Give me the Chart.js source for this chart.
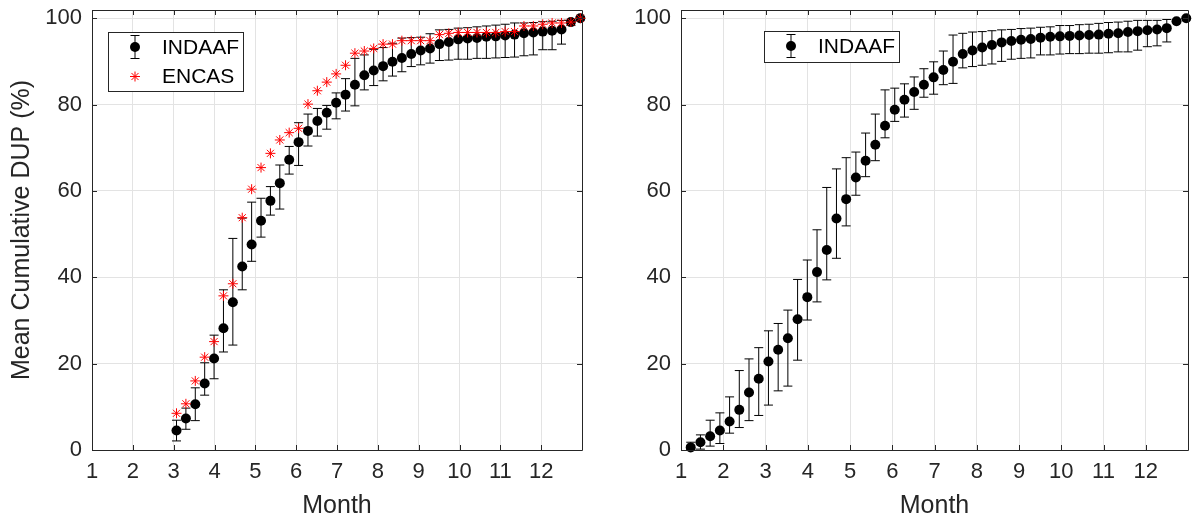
<!DOCTYPE html>
<html>
<head>
<meta charset="utf-8">
<script src="https://cdn.jsdelivr.net/npm/chart.js@4.4.1/dist/chart.umd.min.js"></script>
<style>
    html, body { margin: 0; padding: 0; background: #fff; }
    #wrap { position: relative; width: 1193px; height: 519px; overflow: hidden; }
    canvas { position: absolute; top: 0; }
    #chart_left { left: 0; }
    #chart_right { left: 596px; }
</style>
</head>
<body>
<div id="wrap">
    <canvas id="chart_left" width="596" height="519"></canvas>
    <canvas id="chart_right" width="597" height="519"></canvas>
</div>
<script>
const monthTicks = [1, 2, 3, 4, 5, 6, 7, 8, 9, 10, 11, 12];
const yTicks = [0, 20, 40, 60, 80, 100];

// left panel, weeks 9 to 52
const weeksLeft = [9, 10, 11, 12, 13, 14, 15, 16, 17, 18, 19, 20, 21, 22, 23, 24, 25, 26, 27, 28, 29, 30,
    31, 32, 33, 34, 35, 36, 37, 38, 39, 40, 41, 42, 43, 44, 45, 46, 47, 48, 49, 50, 51, 52];
const indaafLeft = [4.5, 7.3, 10.6, 15.4, 21.2, 28.2, 34.2, 42.5, 47.6, 53.1, 57.7, 61.8, 67.2, 71.3, 73.9, 76.2, 78.1, 80.4,
    82.3, 84.6, 86.8, 87.9, 88.9, 89.9, 90.8, 91.7, 92.5, 93.0, 94.0, 94.5, 95.1, 95.3, 95.4, 95.7, 95.8, 96.0,
    96.2, 96.5, 96.7, 96.9, 97.1, 97.4, 99.1, 100];
const indaafLeftHigh = [6.9, 9.7, 14.4, 20.2, 26.6, 37.1, 49.0, 53.7, 57.4, 58.3, 61.0, 66.0, 70.3, 75.8, 77.8, 79.1, 79.8, 82.7,
    86.0, 90.7, 91.5, 92.8, 93.2, 94.2, 95.4, 95.5, 95.6, 96.4, 97.3, 97.4, 97.7, 97.8, 98.0, 98.2, 98.4, 98.6,
    98.9, 98.9, 99.0, 99.2, 99.3, 99.5, 99.5, 100];
const indaafLeftLow = [2.1, 4.8, 6.8, 12.7, 16.5, 22.7, 24.3, 37.1, 43.7, 49.3, 54.4, 55.8, 63.9, 65.9, 70.4, 72.7, 74.3, 76.7,
    78.5, 79.7, 83.4, 84.4, 85.5, 86.6, 87.6, 88.8, 89.2, 89.6, 90.2, 90.3, 90.5, 90.5, 90.7, 90.7, 90.8, 90.9,
    91.0, 91.3, 91.5, 92.7, 92.7, 94.0, 98.3, 100];
const encasLeft = [8.5, 10.7, 16.0, 21.5, 25.1, 35.7, 38.5, 53.8, 60.4, 65.4, 68.7, 71.8, 73.5, 74.5, 80.1, 83.2, 85.2, 87.1,
    89.1, 91.9, 92.4, 93.0, 94.0, 94.0, 94.8, 94.8, 94.8, 94.8, 96.2, 96.5, 96.7, 96.7, 96.7, 96.7, 96.7, 96.9,
    96.9, 98.2, 98.2, 98.6, 98.9, 98.9, 99.1, 100];

// right panel, weeks 1 to 52
const weeksRight = [1, 2, 3, 4, 5, 6, 7, 8, 9, 10, 11, 12, 13, 14, 15, 16, 17, 18, 19, 20, 21, 22, 23, 24, 25, 26,
    27, 28, 29, 30, 31, 32, 33, 34, 35, 36, 37, 38, 39, 40, 41, 42, 43, 44, 45, 46, 47, 48, 49, 50, 51, 52];
const indaafRight = [0.6, 1.8, 3.2, 4.5, 6.6, 9.3, 13.3, 16.5, 20.5, 23.2, 25.9, 30.3, 35.4, 41.2, 46.3, 53.6, 58.1, 63.1,
    67.0, 70.7, 75.1, 78.8, 81.1, 82.9, 84.6, 86.3, 88.0, 89.9, 91.7, 92.5, 93.2, 93.8, 94.4, 94.7, 95.0, 95.2,
    95.5, 95.7, 95.8, 95.9, 96.0, 96.1, 96.2, 96.4, 96.5, 96.8, 97.0, 97.2, 97.4, 97.7, 99.3, 100];
const indaafRightHigh = [1.8, 3.5, 6.9, 8.6, 12.3, 18.4, 21.1, 23.7, 27.6, 29.3, 32.4, 39.5, 44.0, 51.0, 60.8, 65.1, 67.7, 69.0,
    73.4, 77.8, 83.4, 83.8, 84.8, 86.4, 88.3, 89.9, 92.4, 96.1, 96.5, 96.8, 96.9, 97.1, 97.3, 97.4, 97.6, 97.7,
    97.9, 98.0, 98.3, 98.3, 98.5, 98.6, 98.8, 99.0, 99.1, 99.3, 99.5, 99.5, 99.5, 99.7, 99.3, 100];
const indaafRightLow = [0, 0.2, 0.9, 1.5, 3.9, 5.2, 6.8, 8.0, 10.4, 13.7, 14.8, 20.8, 30.1, 34.3, 39.4, 44.4, 51.9, 59.0,
    63.3, 67.0, 72.3, 76.1, 77.1, 78.9, 81.7, 82.4, 84.6, 84.9, 88.5, 88.8, 89.1, 89.4, 90.0, 90.5, 90.7, 90.8,
    91.5, 91.5, 91.7, 91.8, 91.8, 91.9, 91.9, 92.0, 92.2, 92.2, 92.6, 93.4, 93.6, 94.5, 99.3, 100];

// week number -> month position on the axis
const toMonth = (w) => 1 + w * 7 / 30.44;
const points = (weeks, vals) => weeks.map((w, i) => ({x: toMonth(w), y: vals[i]}));

const FONT = '"Liberation Sans", Arial, sans-serif';
const AXIS_COLOR = '#262626';

// error bars, drawn under the markers
const errorBars = {
    id: 'errorBars',
    beforeDatasetsDraw(chart) {
        const ctx = chart.ctx;
        const xs = chart.scales.x, ys = chart.scales.y;
        ctx.save();
        ctx.strokeStyle = '#000';
        ctx.lineWidth = 1;
        chart.data.datasets.forEach(ds => {
            if (!ds.errLow) return;
            ds.data.forEach((p, i) => {
                const px = xs.getPixelForValue(p.x);
                const yl = ys.getPixelForValue(ds.errLow[i]);
                const yh = ys.getPixelForValue(ds.errHigh[i]);
                if (Math.abs(yl - yh) < 1) return;
                ctx.beginPath();
                ctx.moveTo(px, yl); ctx.lineTo(px, yh);
                ctx.moveTo(px - 4.5, yl); ctx.lineTo(px + 4.5, yl);
                ctx.moveTo(px - 4.5, yh); ctx.lineTo(px + 4.5, yh);
                ctx.stroke();
            });
        });
        ctx.restore();
    }
};

// box around the axes with inward ticks
const axesBox = {
    id: 'axesBox',
    afterDatasetsDraw(chart) {
        const ctx = chart.ctx;
        const a = chart.chartArea;
        const xs = chart.scales.x, ys = chart.scales.y;
        ctx.save();
        ctx.strokeStyle = AXIS_COLOR;
        ctx.lineWidth = 1;
        ctx.beginPath();
        ctx.rect(Math.round(a.left) + 0.5, Math.round(a.top) + 0.5, Math.round(a.right - a.left), Math.round(a.bottom - a.top));
        monthTicks.forEach(v => {
            const px = Math.round(xs.getPixelForValue(v)) + 0.5;
            ctx.moveTo(px, a.bottom); ctx.lineTo(px, a.bottom - 5);
            ctx.moveTo(px, a.top); ctx.lineTo(px, a.top + 5);
        });
        yTicks.forEach(v => {
            const py = Math.round(ys.getPixelForValue(v)) + 0.5;
            ctx.moveTo(a.left, py); ctx.lineTo(a.left + 5, py);
            ctx.moveTo(a.right, py); ctx.lineTo(a.right - 5, py);
        });
        ctx.stroke();
        ctx.restore();
    }
};

function drawStar(ctx, x, y, r) {
    ctx.beginPath();
    for (let k = 0; k < 4; k++) {
        const ang = k * Math.PI / 4;
        ctx.moveTo(x - r * Math.sin(ang), y - r * Math.cos(ang));
        ctx.lineTo(x + r * Math.sin(ang), y + r * Math.cos(ang));
    }
    ctx.stroke();
}

// matlab style legend inside the axes
const boxLegend = {
    id: 'boxLegend',
    afterDraw(chart, args, opts) {
        if (!opts.box) return;
        const ctx = chart.ctx;
        const [bx, by, bw, bh] = opts.box;
        ctx.save();
        ctx.fillStyle = '#fff';
        ctx.fillRect(bx, by, bw, bh);
        ctx.strokeStyle = AXIS_COLOR;
        ctx.lineWidth = 1;
        ctx.strokeRect(bx + 0.5, by + 0.5, bw, bh);
        opts.items.forEach((item, i) => {
            const cy = by + opts.firstRow + i * opts.rowStep;
            const mx = bx + opts.markerX;
            if (item.type === 'errbar') {
                ctx.strokeStyle = '#000';
                ctx.beginPath();
                ctx.moveTo(mx, cy - 11.5); ctx.lineTo(mx, cy + 11.5);
                ctx.moveTo(mx - 4.5, cy - 11.5); ctx.lineTo(mx + 4.5, cy - 11.5);
                ctx.moveTo(mx - 4.5, cy + 11.5); ctx.lineTo(mx + 4.5, cy + 11.5);
                ctx.stroke();
                ctx.fillStyle = '#000';
                ctx.beginPath();
                ctx.arc(mx, cy, 5, 0, Math.PI * 2);
                ctx.fill();
            } else {
                ctx.strokeStyle = '#ff0000';
                drawStar(ctx, mx, cy, 5);
            }
            ctx.fillStyle = '#000';
            ctx.font = '21px ' + FONT;
            ctx.textBaseline = 'middle';
            ctx.textAlign = 'left';
            ctx.fillText(item.label, bx + opts.textX, cy + 1);
        });
        ctx.restore();
    }
};

function makeOptions(yWidth, padRight, showTitle, legendOpts) {
    return {
        responsive: false,
        animation: false,
        devicePixelRatio: 1,
        layout: { padding: { left: 0, right: padRight, top: 10, bottom: 0 } },
        plugins: {
            legend: { display: false },
            tooltip: { enabled: false },
            boxLegend: legendOpts
        },
        scales: {
            x: {
                type: 'linear',
                min: 1,
                max: 13,
                afterBuildTicks: (scale) => { scale.ticks = monthTicks.map(v => ({value: v})); },
                afterFit: (scale) => {
                    scale.height = 69;
                    scale.paddingLeft = 0;
                    scale.paddingRight = 0;
                },
                ticks: {
                    autoSkip: false, maxRotation: 0, padding: 9,
                    color: AXIS_COLOR, font: { family: FONT, size: 22 }
                },
                grid: { color: '#e3e3e3', drawTicks: false },
                border: { display: false },
                title: {
                    display: true, text: 'Month', color: AXIS_COLOR,
                    font: { family: FONT, size: 25, lineHeight: 1 },
                    padding: { top: 0, bottom: 0 }
                }
            },
            y: {
                type: 'linear',
                min: 0,
                max: 101.9,
                afterBuildTicks: (scale) => { scale.ticks = yTicks.map(v => ({value: v})); },
                afterFit: (scale) => {
                    scale.width = yWidth;
                    scale.paddingTop = 0;
                    scale.paddingBottom = 0;
                },
                ticks: { padding: 10, color: AXIS_COLOR, font: { family: FONT, size: 22 } },
                grid: { color: '#e3e3e3', drawTicks: false },
                border: { display: false },
                title: {
                    display: showTitle, text: 'Mean Cumulative DUP (%)', color: AXIS_COLOR,
                    font: { family: FONT, size: 25, lineHeight: 1 },
                    padding: { top: 10, bottom: 0 }
                }
            }
        }
    };
}

new Chart(document.getElementById('chart_left').getContext('2d'), {
    type: 'scatter',
    data: {
        datasets: [
            {
                label: 'ENCAS',
                data: points(weeksLeft, encasLeft),
                pointStyle: 'star',
                pointRadius: 5,
                borderColor: '#ff0000',
                backgroundColor: '#ff0000',
                borderWidth: 1,
                clip: false
            },
            {
                label: 'INDAAF',
                data: points(weeksLeft, indaafLeft),
                errLow: indaafLeftLow,
                errHigh: indaafLeftHigh,
                pointRadius: 5,
                borderWidth: 0,
                backgroundColor: '#000',
                borderColor: '#000',
                clip: false
            }
        ]
    },
    options: makeOptions(92, 14, true, {
        box: [108, 32, 135, 59],
        firstRow: 15, rowStep: 29.5, markerX: 27, textX: 54,
        items: [{label: 'INDAAF', type: 'errbar'}, {label: 'ENCAS', type: 'star'}]
    }),
    plugins: [errorBars, axesBox, boxLegend]
});

new Chart(document.getElementById('chart_right').getContext('2d'), {
    type: 'scatter',
    data: {
        datasets: [
            {
                label: 'INDAAF',
                data: points(weeksRight, indaafRight),
                errLow: indaafRightLow,
                errHigh: indaafRightHigh,
                pointRadius: 5,
                borderWidth: 0,
                backgroundColor: '#000',
                borderColor: '#000',
                clip: false
            }
        ]
    },
    options: makeOptions(85, 2, false, {
        box: [168, 31, 135, 31],
        firstRow: 15, rowStep: 29.5, markerX: 27, textX: 54,
        items: [{label: 'INDAAF', type: 'errbar'}]
    }),
    plugins: [errorBars, axesBox, boxLegend]
});
</script>
</body>
</html>
